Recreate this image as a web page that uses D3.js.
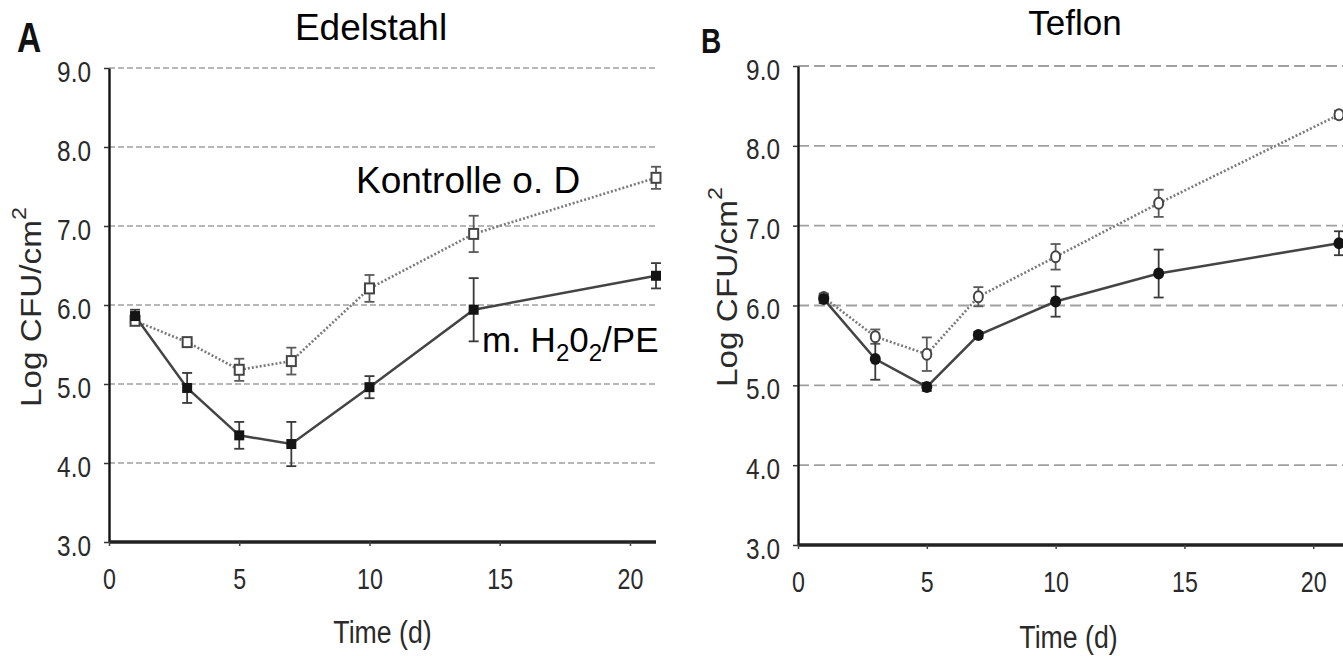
<!DOCTYPE html>
<html>
<head>
<meta charset="utf-8">
<script src="https://cdn.jsdelivr.net/npm/d3@7"></script>
<style>
  body { margin: 0; background: #fff; }
  svg { display: block; font-family: "Liberation Sans", Arial, sans-serif; }
</style>
</head>
<body>
<div id="chart"></div>
<script>
// values
const days = [1, 3, 5, 7, 10, 14, 21];
const xTicks = [0, 5, 10, 15, 20];
const yTicks = [3, 4, 5, 6, 7, 8, 9];

// Edelstahl (A)
const steelControl = [5.80, 5.53, 5.18, 5.29, 6.21, 6.90, 7.61];
const steelControlErr = [0.05, 0.03, 0.14, 0.17, 0.17, 0.23, 0.14];
const steelTreated = [5.86, 4.95, 4.35, 4.24, 4.96, 5.94, 6.37];
const steelTreatedErr = [0.08, 0.19, 0.17, 0.28, 0.14, 0.40, 0.16];

// Teflon (B)
const teflonControl = [6.10, 5.61, 5.39, 6.11, 6.61, 7.28, 8.39];
const teflonControlErr = [0.05, 0.09, 0.21, 0.12, 0.16, 0.17, 0.05];
const teflonTreated = [6.08, 5.33, 4.98, 5.63, 6.05, 6.40, 6.78];
const teflonTreatedErr = [0.05, 0.26, 0.05, 0.04, 0.19, 0.30, 0.15];

const svg = d3.select("#chart").append("svg")
    .attr("width", 1343)
    .attr("height", 656)

//squeeze text horizontally like the scanned figure
function squeeze(sel, f) {
    sel.each(function () {
        const w = this.getComputedTextLength()
        d3.select(this).attr("textLength", w * f).attr("lengthAdjust", "spacingAndGlyphs")
    })
}

function zip(vals, errs) {
    return days.map((d, i) => ({ day: d, v: vals[i], e: errs[i] }))
}

function drawPanel(p) {
    const x = d3.scaleLinear().domain([0, 21]).range([p.left, p.right])
    const y = d3.scaleLinear().domain([3, 9]).range([p.bottom, p.top])
    const g = svg.append("g")

    //dashed grid lines
    g.selectAll(".grid").data(yTicks.slice(1)).enter().append("line")
        .attr("x1", p.left).attr("x2", p.gridEnd)
        .attr("y1", d => y(d)).attr("y2", d => y(d))
        .attr("stroke", "#a0a0a0")
        .attr("stroke-width", p.gridWidth)
        .attr("stroke-dasharray", p.gridDash)

    //y axis
    const yAxis = g.append("g")
        .attr("transform", "translate(" + p.left + ",0)")
        .call(d3.axisLeft(y).tickValues(yTicks).tickFormat(d3.format(".1f")).tickSize(5).tickSizeOuter(0).tickPadding(13))
    yAxis.select(".domain").attr("stroke", "#111").attr("stroke-width", 2.4)
    yAxis.selectAll(".tick line").attr("stroke", "#333").attr("stroke-width", 1.5)
    yAxis.selectAll(".tick text")
        .attr("font-size", 29).attr("fill", "#2a2a2a").attr("dy", "0.45em")
        .style("font-family", "Liberation Sans, Arial, sans-serif")
        .call(squeeze, 0.84)

    //x axis
    const xAxis = g.append("g")
        .attr("transform", "translate(0," + p.bottom + ")")
        .call(d3.axisBottom(x).tickValues(xTicks).tickSize(4).tickSizeOuter(0).tickPadding(22))
    xAxis.select(".domain").attr("d", "M" + p.left + ",0H" + p.axisEnd)
        .attr("stroke", "#222").attr("stroke-width", 3.4)
    xAxis.selectAll(".tick line").attr("stroke", "#444").attr("stroke-width", 1.5)
    xAxis.selectAll(".tick text")
        .attr("font-size", 29).attr("fill", "#2a2a2a")
        .style("font-family", "Liberation Sans, Arial, sans-serif")
        .call(squeeze, 0.8)

    const line = d3.line().x(d => x(d.day)).y(d => y(d.v))

    const control = zip(p.control, p.controlErr)
    const treated = zip(p.treated, p.treatedErr)

    g.append("path").datum(control)
        .attr("d", line).attr("fill", "none")
        .attr("stroke", "#7a7a7a").attr("stroke-width", 2.6)
        .attr("stroke-dasharray", "2,2")

    g.append("path").datum(treated)
        .attr("d", line).attr("fill", "none")
        .attr("stroke", "#444").attr("stroke-width", 2.5)

    //error bars
    function errorBars(data, color) {
        const eb = g.append("g").attr("stroke", color).attr("stroke-width", 1.8)
        eb.selectAll(".v").data(data).enter().append("line")
            .attr("x1", d => x(d.day)).attr("x2", d => x(d.day))
            .attr("y1", d => y(d.v - d.e)).attr("y2", d => y(d.v + d.e))
        eb.selectAll(".t").data(data).enter().append("line")
            .attr("x1", d => x(d.day) - 5).attr("x2", d => x(d.day) + 5)
            .attr("y1", d => y(d.v + d.e)).attr("y2", d => y(d.v + d.e))
        eb.selectAll(".b").data(data).enter().append("line")
            .attr("x1", d => x(d.day) - 5).attr("x2", d => x(d.day) + 5)
            .attr("y1", d => y(d.v - d.e)).attr("y2", d => y(d.v - d.e))
    }
    errorBars(control, "#5a5a5a")
    errorBars(treated, "#3a3a3a")

    //markers
    if (p.shape === "square") {
        g.selectAll(".mc").data(control).enter().append("rect")
            .attr("x", d => x(d.day) - 4.5).attr("y", d => y(d.v) - 5)
            .attr("width", 9).attr("height", 10)
            .attr("fill", "#fff").attr("stroke", "#444").attr("stroke-width", 2)
        g.selectAll(".mt").data(treated).enter().append("rect")
            .attr("x", d => x(d.day) - 5).attr("y", d => y(d.v) - 5)
            .attr("width", 10).attr("height", 10)
            .attr("fill", "#141414")
    } else {
        g.selectAll(".mc").data(control).enter().append("ellipse")
            .attr("cx", d => x(d.day)).attr("cy", d => y(d.v))
            .attr("rx", 4.5).attr("ry", 5.5)
            .attr("fill", "#fff").attr("stroke", "#444").attr("stroke-width", 2)
        g.selectAll(".mt").data(treated).enter().append("ellipse")
            .attr("cx", d => x(d.day)).attr("cy", d => y(d.v))
            .attr("rx", 5.5).attr("ry", 6)
            .attr("fill", "#141414")
    }

    //panel letter and title
    g.append("text")
        .attr("x", p.letterX).attr("y", p.letterY)
        .attr("font-size", p.letterSize).attr("font-weight", "bold").attr("fill", "#111")
        .text(p.letter)
        .call(squeeze, 0.8)

    g.append("text")
        .attr("x", p.titleX).attr("y", p.titleY)
        .attr("text-anchor", "middle")
        .attr("font-size", p.titleSize).attr("fill", "#000")
        .text(p.title)

    //axis labels
    const yl = g.append("text")
        .attr("transform", "translate(" + p.yLabelX + "," + p.yLabelY + ") rotate(-90)")
        .attr("text-anchor", "middle")
        .attr("font-size", 30).attr("fill", "#2a2a2a")
    yl.append("tspan").text("Log CFU/cm")
    yl.append("tspan").attr("dy", "-0.7em").attr("font-size", 21).text("2")
    yl.attr("textLength", 200).attr("lengthAdjust", "spacingAndGlyphs")

    g.append("text")
        .attr("x", (p.left + p.right) / 2).attr("y", p.xLabelY)
        .attr("text-anchor", "middle")
        .attr("font-size", 31).attr("fill", "#2a2a2a")
        .text("Time (d)")
        .call(squeeze, 0.86)
}

drawPanel({
    left: 109, right: 656, top: 68, bottom: 542, gridEnd: 658, axisEnd: 656,
    gridDash: "6,3", gridWidth: 1.4,
    control: steelControl, controlErr: steelControlErr,
    treated: steelTreated, treatedErr: steelTreatedErr,
    shape: "square",
    letter: "A", letterX: 17, letterY: 52, letterSize: 42,
    title: "Edelstahl", titleX: 371, titleY: 40, titleSize: 37,
    yLabelX: 41, yLabelY: 307, xLabelY: 643
})

drawPanel({
    left: 798, right: 1339, top: 66, bottom: 545, gridEnd: 1343, axisEnd: 1343,
    gridDash: "11,5", gridWidth: 1.8,
    control: teflonControl, controlErr: teflonControlErr,
    treated: teflonTreated, treatedErr: teflonTreatedErr,
    shape: "circle",
    letter: "B", letterX: 701, letterY: 53, letterSize: 35,
    title: "Teflon", titleX: 1075, titleY: 35, titleSize: 35,
    yLabelX: 737, yLabelY: 287, xLabelY: 648
})

//series labels on panel A
svg.append("text")
    .attr("x", 356).attr("y", 193)
    .attr("font-size", 37).attr("fill", "#000")
    .text("Kontrolle o. D")

const lab = svg.append("text")
    .attr("x", 482).attr("y", 352)
    .attr("font-size", 35).attr("fill", "#000")
lab.append("tspan").text("m. H")
lab.append("tspan").attr("dy", 9).attr("font-size", 24).text("2")
lab.append("tspan").attr("dy", -9).text("0")
lab.append("tspan").attr("dy", 9).attr("font-size", 24).text("2")
lab.append("tspan").attr("dy", -9).text("/PE")
</script>
</body>
</html>
